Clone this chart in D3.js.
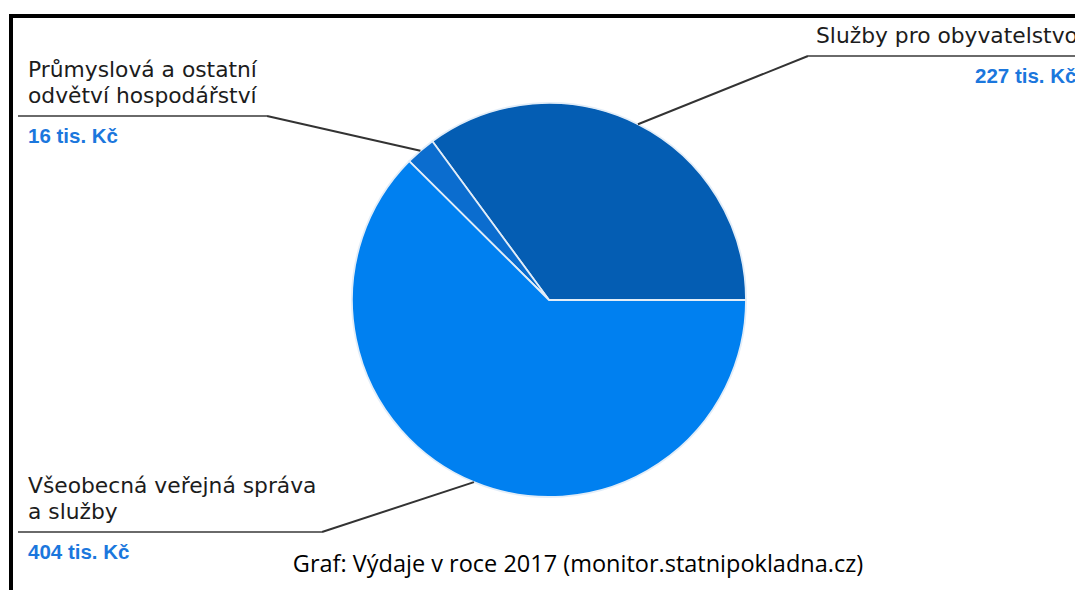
<!DOCTYPE html>
<html><head><meta charset="utf-8">
<script src="https://cdn.jsdelivr.net/npm/d3@7"></script>
<style>html,body{margin:0;padding:0;background:#fff;overflow:hidden}</style>
</head><body>
<svg id="c" width="1075" height="590"></svg>
<script>
const categories = ["Služby pro obyvatelstvo", "Průmyslová a ostatní odvětví hospodářství", "Všeobecná veřejná správa a služby"];
const labelLines = [["Služby pro obyvatelstvo"], ["Průmyslová a ostatní", "odvětví hospodářství"], ["Všeobecná veřejná správa", "a služby"]];
const values = [227, 16, 404];
const valueLabels = ["227 tis. Kč", "16 tis. Kč", "404 tis. Kč"];
const colors = ["#045db3", "#0b6dcf", "#0080f0"];
const caption = "Graf: Výdaje v roce 2017 (monitor.statnipokladna.cz)";

// layout for leader lines / labels
const layout = [
  {elbowX: 808, elbowY: 56, endX: 1090, textX: 816, valX: 975},
  {elbowX: 267, elbowY: 116, endX: 18, textX: 28, valX: 28},
  {elbowX: 322, elbowY: 532, endX: 18, textX: 28, valX: 28}
];

const svg = d3.select("#c");
svg.append("rect").attr("x", 11).attr("y", 16).attr("width", 1100).attr("height", 600)
  .attr("fill", "none").attr("stroke", "#000").attr("stroke-width", 4);

const cx = 549, cy = 300, r = 197;
const g = svg.append("g").attr("transform", `translate(${cx},${cy})`);
const pie = d3.pie().sort(null).value(d => d).startAngle(Math.PI / 2).endAngle(Math.PI / 2 - 2 * Math.PI);
const arcs = pie(values);
const arc = d3.arc().innerRadius(0).outerRadius(r);

g.selectAll("path.s").data(arcs).enter().append("path").attr("class", "s")
  .attr("d", arc).attr("fill", (d, i) => colors[i])
  .attr("stroke", "#e2edf8").attr("stroke-width", 1.8).attr("stroke-linejoin", "round");

const edge = d3.arc().innerRadius(r).outerRadius(r);
arcs.forEach((d, i) => {
  const L = layout[i];
  const [px, py] = edge.centroid(d);
  svg.append("line").attr("x1", cx + px).attr("y1", cy + py).attr("x2", L.elbowX).attr("y2", L.elbowY)
    .attr("stroke", "#333").attr("stroke-width", 2);
  svg.append("line").attr("x1", L.elbowX).attr("y1", L.elbowY).attr("x2", L.endX).attr("y2", L.elbowY)
    .attr("stroke", "#6a6a6a").attr("stroke-width", 2);
  const lines = labelLines[i];
  const t = svg.append("text").attr("font-family", "DejaVu Sans, Verdana, sans-serif")
    .attr("font-size", 21.8).attr("fill", "#1c1c1c");
  lines.forEach((s, k) => {
    t.append("tspan").attr("x", L.textX).attr("y", L.elbowY - 13 - (lines.length - 1 - k) * 26).text(s);
  });
  svg.append("text").attr("x", L.valX).attr("y", L.elbowY + 27)
    .attr("font-family", "Liberation Sans, Arial, sans-serif").attr("font-weight", "bold")
    .attr("font-size", 20.5).attr("fill", "#1b77dd").text(valueLabels[i]);
});

svg.append("text").attr("x", 578).attr("y", 572).attr("text-anchor", "middle")
  .attr("font-family", "Open Sans, sans-serif").attr("font-size", 23.5).attr("fill", "#000").text(caption);
</script>
</body></html>
